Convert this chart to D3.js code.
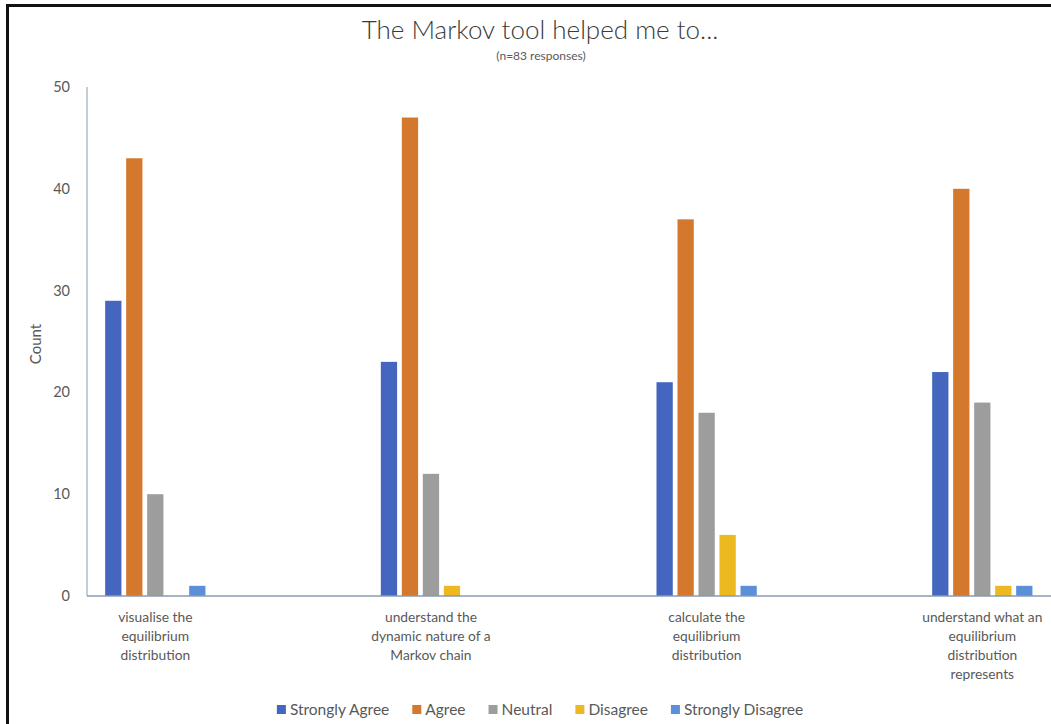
<!DOCTYPE html>
<html>
<head>
<meta charset="utf-8">
<script src="https://cdnjs.cloudflare.com/ajax/libs/d3/7.8.5/d3.min.js"></script>
<style>
  html, body { margin: 0; padding: 0; background: #fff; }
  svg { display: block; font-family: Lato, "Open Sans", sans-serif; }
</style>
</head>
<body>
<svg id="chart" width="1051" height="724"></svg>
<script>
// ---- data ----
const categories = [
  ["visualise the", "equilibrium", "distribution"],
  ["understand the", "dynamic nature of a", "Markov chain"],
  ["calculate the", "equilibrium", "distribution"],
  ["understand what an", "equilibrium", "distribution", "represents"]
];
const categoryKeys = ["visualise", "dynamic", "calculate", "represents"];
const seriesNames = ["Strongly Agree", "Agree", "Neutral", "Disagree", "Strongly Disagree"];
const stronglyAgree    = [29, 23, 21, 22];
const agree            = [43, 47, 37, 40];
const neutral          = [10, 12, 18, 19];
const disagree         = [0, 1, 6, 1];
const stronglyDisagree = [1, 0, 1, 1];
const yTicks = [0, 10, 20, 30, 40, 50];
const titleText = "The Markov tool helped me to...";
const subtitleText = "(n=83 responses)";
const yAxisTitle = "Count";

const seriesValues = [stronglyAgree, agree, neutral, disagree, stronglyDisagree];
const colors = ["#4466bf", "#d4782e", "#9d9d9d", "#edb920", "#5b90d8"];

const svg = d3.select("#chart");

// outer frame (page border)
svg.append("path")
  .attr("d", "M7.5,1060 L7.5,5.5 L1060,5.5")
  .attr("fill", "none").attr("stroke", "#111").attr("stroke-width", 3);

// scales
const x0 = d3.scalePoint().domain(categoryKeys).range([155.3, 982.3]);
const x1 = d3.scaleBand().domain(seriesNames).range([-52.5, 52.5])
  .paddingInner(0.225).paddingOuter(0.1125);
const y = d3.scaleLinear().domain([0, 50]).range([596, 87]);

const axisColor = "#8a9ab3";
const textColor = "#595959";

// title
svg.append("text").attr("x", 540).attr("y", 39).attr("text-anchor", "middle")
  .attr("font-size", 26).attr("font-weight", 300).attr("fill", "#3a3a3a").text(titleText);
svg.append("text").attr("x", 541).attr("y", 60).attr("text-anchor", "middle")
  .attr("font-size", 12).attr("fill", textColor).text(subtitleText);

// y axis labels
svg.append("g").selectAll("text").data(yTicks).join("text")
  .attr("x", 70).attr("y", d => y(d)).attr("dy", "0.35em")
  .attr("text-anchor", "end").attr("font-size", 14.5).attr("fill", textColor)
  .text(d => d);

svg.append("text")
  .attr("transform", "translate(41,344) rotate(-90)")
  .attr("text-anchor", "middle").attr("font-size", 15).attr("fill", textColor)
  .text(yAxisTitle);

// bars
const data = [];
categoryKeys.forEach((c, i) => {
  seriesNames.forEach((s, j) => {
    data.push({ cat: c, ser: s, v: seriesValues[j][i], color: colors[j] });
  });
});
svg.append("g").selectAll("rect").data(data.filter(d => d.v > 0)).join("rect")
  .attr("x", d => x0(d.cat) + x1(d.ser))
  .attr("width", x1.bandwidth())
  .attr("y", d => y(d.v))
  .attr("height", d => y(0) - y(d.v))
  .attr("fill", d => d.color);

// axis lines
svg.append("line").attr("x1", 87).attr("x2", 87).attr("y1", y(50)).attr("y2", y(0))
  .attr("stroke", axisColor).attr("stroke-width", 1);
svg.append("line").attr("x1", 87).attr("x2", 1051).attr("y1", y(0)).attr("y2", y(0))
  .attr("stroke", axisColor).attr("stroke-width", 1.3);

// category labels
const cl = svg.append("g");
categoryKeys.forEach((c, i) => {
  const t = cl.append("text").attr("text-anchor", "middle")
    .attr("font-size", 13.8).attr("fill", textColor);
  categories[i].forEach((line, k) => {
    t.append("tspan").attr("x", x0(c)).attr("y", 622 + k * 19).text(line);
  });
});

// legend
const lg = svg.append("g");
const items = [];
let cursor = 0;
seriesNames.forEach((s, j) => {
  const g = lg.append("g");
  g.append("rect").attr("x", 0).attr("y", -5).attr("width", 9).attr("height", 9).attr("fill", colors[j]);
  const t = g.append("text").attr("x", 13).attr("y", 0).attr("dy", "0.35em")
    .attr("font-size", 15.5).attr("fill", textColor).text(s);
  const w = 13 + t.node().getComputedTextLength();
  items.push({ g, x: cursor });
  cursor += w + 23;
});
const total = cursor - 23;
const startX = 540 - total / 2;
items.forEach(it => it.g.attr("transform", `translate(${startX + it.x},710)`));
</script>
</body>
</html>
